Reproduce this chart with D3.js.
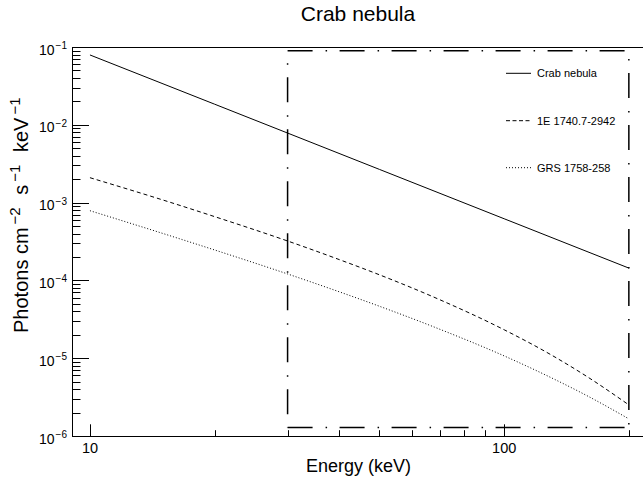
<!DOCTYPE html>
<html>
<head>
<meta charset="utf-8">
<script src="https://cdn.jsdelivr.net/npm/d3@7"></script>
<style>
  html, body { margin: 0; padding: 0; background: #fff; }
  svg { display: block; }
  text { font-family: "Liberation Sans", Arial, Helvetica, sans-serif; fill: #000; }
</style>
</head>
<body>
<svg id="chart" width="643" height="479"></svg>
<script>
// ---------------- data ----------------
const titleText = "Crab nebula";
const xTitle = "Energy (keV)";
const seriesNames = ["Crab nebula", "1E 1740.7-2942", "GRS 1758-258"];

const crabEnergy = [10, 20, 50, 100, 200];
const crabFlux   = [7.9e-2, 1.84e-2, 2.67e-3, 6.2e-4, 1.44e-4];

const srcEnergy  = [10, 15, 20, 30, 40, 50, 70, 100, 130, 160, 200];
const e1740Flux  = [2.09e-3, 1.08e-3, 6.6e-4, 3.21e-4, 1.85e-4, 1.18e-4, 5.63e-5, 2.32e-5, 1.10e-5, 5.62e-6, 2.51e-6];
const grsFlux    = [7.87e-4, 4.01e-4, 2.46e-4, 1.21e-4, 7.13e-5, 4.65e-5, 2.35e-5, 1.07e-5, 5.60e-6, 3.21e-6, 1.66e-6];

const boxEnergy  = [30, 200];
const boxFlux    = [1.29e-6, 8.96e-2];

const xMajorTicks = [10, 100];
const xMajorLabels = ["10", "100"];
const xMinorTicks = [20, 30, 40, 50, 60, 70, 80, 90, 200];
const yMajorExp = [-6, -5, -4, -3, -2, -1];

// ---------------- layout ----------------
const svg = d3.select("#chart");
const frame = { left: 72, right: 646, top: 47, bottom: 436 };

const x = d3.scaleLog().domain([9.05, 220]).range([frame.left, frame.right]);
const y = d3.scaleLog().domain([1e-6, 1e-1]).range([frame.bottom, frame.top]);

// clip
svg.append("defs").append("clipPath").attr("id", "clip")
  .append("rect").attr("x", frame.left).attr("y", frame.top)
  .attr("width", frame.right - frame.left).attr("height", frame.bottom - frame.top);

// frame
svg.append("rect")
  .attr("x", frame.left + 0.5).attr("y", frame.top + 0.5)
  .attr("width", frame.right - frame.left).attr("height", frame.bottom - frame.top)
  .attr("fill", "none").attr("stroke", "#000").attr("stroke-width", 1);

// x ticks (upward inside)
const xMajLen = 11.7, xMinLen = 5.8;
const gx = svg.append("g");
xMajorTicks.forEach(v => {
  const px = Math.round(x(v)) + 0.5;
  gx.append("line").attr("x1", px).attr("x2", px)
    .attr("y1", frame.bottom).attr("y2", frame.bottom - xMajLen)
    .attr("stroke", "#000");
});
xMinorTicks.forEach(v => {
  const px = Math.round(x(v)) + 0.5;
  gx.append("line").attr("x1", px).attr("x2", px)
    .attr("y1", frame.bottom).attr("y2", frame.bottom - xMinLen)
    .attr("stroke", "#000");
});
xMajorTicks.forEach((v, i) => {
  gx.append("text").attr("x", x(v)).attr("y", 453)
    .attr("text-anchor", "middle").attr("font-size", 14.5)
    .text(xMajorLabels[i]);
});

// y ticks (rightward inside)
const yMajLen = 17, yMinLen = 8.5;
const gy = svg.append("g");
yMajorExp.forEach(e => {
  const py = Math.round(y(Math.pow(10, e))) + 0.5;
  gy.append("line").attr("x1", frame.left).attr("x2", frame.left + yMajLen)
    .attr("y1", py).attr("y2", py).attr("stroke", "#000");
  if (e < -1) {
    for (let m = 2; m <= 9; m++) {
      const pm = Math.round(y(m * Math.pow(10, e))) + 0.5;
      gy.append("line").attr("x1", frame.left).attr("x2", frame.left + yMinLen)
        .attr("y1", pm).attr("y2", pm).attr("stroke", "#000");
    }
  }
  const t = gy.append("text").attr("x", 67).attr("y", y(Math.pow(10, e)) + 7.5)
    .attr("text-anchor", "end").attr("font-size", 14);
  t.append("tspan").text("10");
  t.append("tspan").attr("font-size", 10).attr("dy", -5.5).attr("dx", 1).text("\u2212" + (-e));
});

// axis titles
svg.append("text").attr("x", 358).attr("y", 21).attr("text-anchor", "middle")
  .attr("font-size", 21).text(titleText);
svg.append("text").attr("x", 358.5).attr("y", 472).attr("text-anchor", "middle")
  .attr("font-size", 18).text(xTitle);

const yt = svg.append("text").attr("transform", "translate(28,333) rotate(-90)")
  .attr("text-anchor", "start").attr("font-size", 20);
yt.append("tspan").text("Photons cm");
yt.append("tspan").attr("font-size", 15).attr("dy", -8).attr("dx", 3).text("\u22122");
yt.append("tspan").attr("dy", 8).attr("dx", 7).text(" s");
yt.append("tspan").attr("font-size", 15).attr("dy", -8).attr("dx", 3).text("\u22121");
yt.append("tspan").attr("dy", 8).attr("dx", 7).text(" keV");
yt.append("tspan").attr("font-size", 15).attr("dy", -8).attr("dx", 3).text("\u22121");

// curves
const line = d3.line().x(d => x(d[0])).y(d => y(d[1])).curve(d3.curveMonotoneX);
const plot = svg.append("g").attr("clip-path", "url(#clip)");

plot.append("path").datum(crabEnergy.map((e, i) => [e, crabFlux[i]]))
  .attr("d", line).attr("fill", "none").attr("stroke", "#000").attr("stroke-width", 1);
plot.append("path").datum(srcEnergy.map((e, i) => [e, e1740Flux[i]]))
  .attr("d", line).attr("fill", "none").attr("stroke", "#000").attr("stroke-width", 1)
  .attr("stroke-dasharray", "4,3");
plot.append("path").datum(srcEnergy.map((e, i) => [e, grsFlux[i]]))
  .attr("d", line).attr("fill", "none").attr("stroke", "#000").attr("stroke-width", 1)
  .attr("stroke-dasharray", "1,2");

// dash-dot box
const bx0 = x(boxEnergy[0]), bx1 = x(boxEnergy[1]);
const by0 = y(boxFlux[0]), by1 = y(boxFlux[1]);
const dd = "25,13,1.5,12.5";
const boxG = svg.append("g").attr("fill", "none").attr("stroke", "#000").attr("stroke-width", 1.5)
  .attr("stroke-dasharray", dd);
boxG.append("line").attr("x1", bx0).attr("y1", by1).attr("x2", bx1).attr("y2", by1);
boxG.append("line").attr("x1", bx0).attr("y1", by0).attr("x2", bx1).attr("y2", by0);
boxG.append("line").attr("x1", bx0).attr("y1", by1).attr("x2", bx0).attr("y2", by0)
  .attr("stroke-dashoffset", 25.4);
boxG.append("line").attr("x1", bx1).attr("y1", by1).attr("x2", bx1).attr("y2", by0)
  .attr("stroke-dashoffset", 29.7);

// legend
const legY = [73.3, 120.7, 167.7];
const legDash = [null, "4,2.5", "1,2"];
const leg = svg.append("g");
seriesNames.forEach((name, i) => {
  leg.append("line").attr("x1", 506).attr("x2", 531)
    .attr("y1", legY[i]).attr("y2", legY[i])
    .attr("stroke", "#000").attr("stroke-width", 1)
    .attr("stroke-dasharray", legDash[i]);
  leg.append("text").attr("x", 537).attr("y", legY[i] + 4)
    .attr("font-size", 11).text(name);
});
</script>
</body>
</html>
